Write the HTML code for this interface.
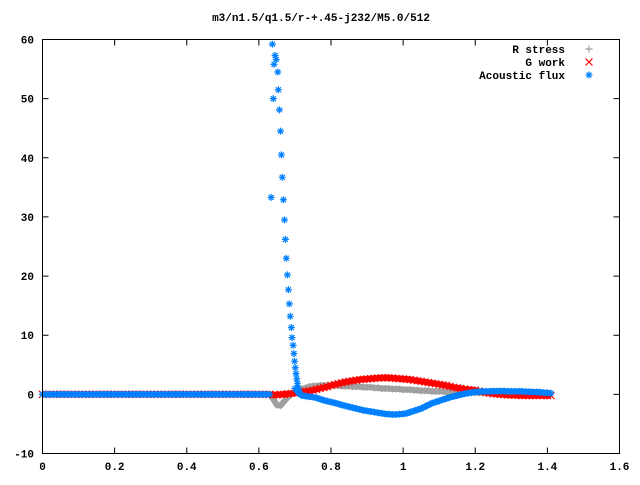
<!DOCTYPE html>
<html><head><meta charset="utf-8"><style>
body{margin:0;background:#fff}
svg text{font-family:"Liberation Mono",monospace;font-size:11px;font-weight:bold;fill:#000}
</style></head><body>
<svg id="chart" width="640" height="480" xmlns="http://www.w3.org/2000/svg">
<rect width="640" height="480" fill="#fff"/>
<text x="321" y="21" text-anchor="middle">m3/n1.5/q1.5/r-+.45-j232/M5.0/512</text>
<g id="axes"></g>
<g id="series"></g>
<rect x="42.5" y="39.5" width="577" height="414" fill="none" stroke="#000"/>
<g id="legend"></g>
</svg>
<script>
const xTicks=[0,0.2,0.4,0.6,0.8,1,1.2,1.4,1.6];
const xTickLabels=["0","0.2","0.4","0.6","0.8","1","1.2","1.4","1.6"];
const yTicks=[-10,0,10,20,30,40,50,60];
const yTickLabels=["-10","0","10","20","30","40","50","60"];
const seriesNames=["R stress","G work","Acoustic flux"];
const zeros63=[0,0,0,0,0,0,0,0,0,0,0,0,0,0,0,0,0,0,0,0,0,0,0,0,0,0,0,0,0,0,0,0,0,0,0,0,0,0,0,0,0,0,0,0,0,0,0,0,0,0,0,0,0,0,0,0,0,0,0,0,0,0,0];
const rStress=zeros63.concat([0,-0.8,-1.8,-1.9,-1.2,-0.5,0,
0.4,0.7,0.9,1.1,1.3,1.4,1.4,1.5,1.5,1.5,
1.5,1.5,1.5,1.4,1.4,1.4,1.3,1.3,1.3,1.2,
1.2,1.2,1.1,1.1,1.0,1.0,1.0,0.9,0.9,0.9,
0.8,0.8,0.8,0.7,0.7,0.6,0.6,0.6,0.5,0.5,
0.5,0.5,0.4,0.4,0.4,0.3,0.3,0.3,0.3,0.3,
0.3,0.3,0.3,0.3,0.3,0.3,0.3,0.3,0.3,0.3,
0.3,0.3,0.3,0.3,0.3,0.3,0.2,0.2,0.2,0.2,
0.2,0.2]);
const gWork=zeros63.concat([0,-0.1,-0.1,0,0,0.1,0.15,
0.2,0.3,0.4,0.5,0.6,0.7,0.85,1.0,1.15,1.3,
1.5,1.65,1.8,1.95,2.1,2.2,2.3,2.4,2.5,2.55,
2.6,2.65,2.7,2.75,2.8,2.8,2.8,2.75,2.7,2.65,
2.6,2.55,2.5,2.4,2.3,2.2,2.1,2.0,1.9,1.8,
1.7,1.6,1.5,1.35,1.2,1.1,1.0,0.9,0.8,0.75,
0.7,0.55,0.4,0.3,0.2,0.1,0.05,0,-0.05,-0.1,
-0.1,-0.15,-0.15,-0.2,-0.2,-0.2,-0.2,-0.2,-0.2,-0.2,
-0.2,-0.2]);
const acFlux=zeros63.concat([0,null,null,null,null,null,null,
1.0,0.3,-0.2,-0.3,-0.4,-0.45,-0.6,-0.8,-1.0,-1.15,
-1.3,-1.45,-1.6,-1.8,-1.95,-2.1,-2.25,-2.4,-2.55,-2.7,
-2.8,-2.9,-3.0,-3.1,-3.2,-3.3,-3.35,-3.4,-3.4,-3.35,
-3.3,-3.2,-3.0,-2.8,-2.6,-2.4,-2.1,-1.8,-1.5,-1.3,
-1.1,-0.9,-0.7,-0.5,-0.35,-0.2,-0.05,0.1,0.2,0.3,
0.4,0.45,0.5,0.5,0.5,0.55,0.55,0.55,0.55,0.5,
0.5,0.5,0.5,0.5,0.45,0.45,0.4,0.4,0.35,0.3,
0.25,0.2]);
const spikeX=[0.6375,0.645,0.648,0.642,0.6525,0.654,0.640,0.657,0.660,0.6625,0.665,0.634,0.668,0.671,0.6735,0.676,0.679,0.682,0.6845,0.687,0.690,0.692,0.695,0.697,0.699,0.701,0.703,0.705,0.707,0.709,0.712,0.715];
const spikeY=[59.2,57.3,56.6,55.8,54.5,51.5,50,48.1,44.5,40.5,36.7,33.3,32.9,29.5,26.2,23,20.2,17.7,15.3,13.2,11.3,9.6,8.3,6.9,5.6,4.5,3.5,2.6,1.8,1.1,0.5,0];

const X0=42.5,X1=619.5,Y0=453.5,Y1=39.5;
const sx=v=>X0+(v-0)/(1.6-0)*(X1-X0);
const sy=v=>Y0-(v+10)/70*(Y0-Y1);
const NS="http://www.w3.org/2000/svg";
function mk(tag,attrs,parent){const e=document.createElementNS(NS,tag);for(const k in attrs)e.setAttribute(k,attrs[k]);parent.appendChild(e);return e;}
const axes=document.getElementById('axes');
xTicks.forEach((t,i)=>{
  const x=sx(t);
  const tk=mk('path',{d:`M${x},${Y0}v-6M${x},${Y1}v6`,stroke:'#000',fill:'none'},axes);
  
  
  const lb=mk('text',{x:x,y:470,'text-anchor':'middle'},axes);lb.textContent=xTickLabels[i];
  
  
});
yTicks.forEach((t,i)=>{
  const y=sy(t);
  const tk=mk('path',{d:`M${X0},${y}h6M${X1},${y}h-6`,stroke:'#000',fill:'none'},axes);
  
  
  const lb=mk('text',{x:34,y:y+4,'text-anchor':'end'},axes);lb.textContent=yTickLabels[i];
  
  
});
const colors=['#a0a0a0','#ff0000','#0080ff'];
function marker(type,x,y,c,parent){
  const s=3.5;let d;
  if(type===0)d=`M${x-s},${y}h${2*s}M${x},${y-s}v${2*s}`;
  else if(type===1)d=`M${x-s},${y-s}L${x+s},${y+s}M${x-s},${y+s}L${x+s},${y-s}`;
  else d=`M${x-s},${y}h${2*s}M${x},${y-s}v${2*s}M${x-s+1},${y-s+1}L${x+s-1},${y+s-1}M${x-s+1},${y+s-1}L${x+s-1},${y-s+1}`;
  return mk('path',{d:d,stroke:c,'stroke-width':1.2,fill:'none'},parent);
}
const ser=document.getElementById('series');
const data=[rStress,gWork,acFlux];
const names=['r-stress','g-work','acoustic-flux'];
data.forEach((vals,si)=>{
  const g=mk('g',{},ser);
  
  
  let segs=[],cur=[];
  vals.forEach((v,i)=>{if(v===null){if(cur.length)segs.push(cur);cur=[];}else cur.push([sx(i*0.01),sy(v)]);});
  if(cur.length)segs.push(cur);
  segs.forEach(sg=>{
    const pl=mk('polyline',{points:sg.map(p=>p.join(',')).join(' '),stroke:colors[si],'stroke-width':6,fill:'none','stroke-linejoin':'round'},g);
    
    
  });
  vals.forEach((v,i)=>{if(v===null)return;
    const m=marker(si,sx(i*0.01),sy(v),colors[si],g);
    
    
  });
});
const sg=mk('g',{},ser);


spikeX.forEach((x,i)=>{
  const m=marker(2,sx(x),sy(spikeY[i]),colors[2],sg);
  
  
});
const lg=document.getElementById('legend');


seriesNames.forEach((n,i)=>{
  const y=49+13*i;
  const t=mk('text',{x:565,y:y+4,'text-anchor':'end'},lg);t.textContent=n;
  
  
  const m=marker(i,589,y,colors[i],lg);
  
  
});
</script>
</body></html>
